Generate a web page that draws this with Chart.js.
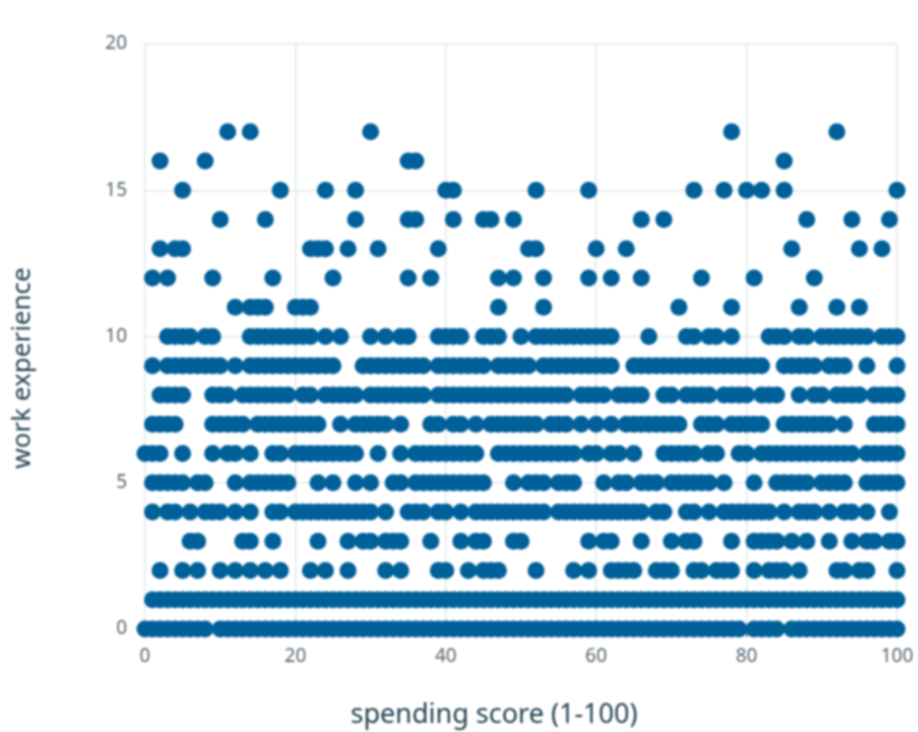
<!DOCTYPE html>
<html>
<head>
<meta charset="utf-8">
<title>work experience vs spending score</title>
<script src="https://cdn.jsdelivr.net/npm/chart.js@4/dist/chart.umd.min.js"></script>
<style>
  html, body { margin: 0; padding: 0; background: #fff; }
  /* the reference is a slightly soft upscaled image */
  canvas { display: block; filter: blur(0.8px); }
</style>
</head>
<body>
<canvas id="myChart" width="918" height="732"></canvas>
<script>
var xTicks = [0, 20, 40, 60, 80, 100];
var yTicks = [0, 5, 10, 15, 20];
var xTitle = 'spending score (1-100)';
var yTitle = 'work experience';

// spending scores seen at each work experience level
var exp0 = [0,1,2,3,4,5,6,7,8,10,11,12,13,14,15,16,17,18,19,20,21,22,23,24,25,26,27,28,29,30,31,32,33,34,35,36,37,38,39,40,41,42,43,44,45,46,47,48,49,50,51,52,53,54,55,56,57,58,59,60,61,62,63,64,65,66,67,68,69,70,71,72,73,74,75,76,77,78,79,81,82,83,84,86,87,88,89,90,91,92,93,94,95,96,97,98,99,100];
var exp1 = [1,2,3,4,5,6,7,8,9,10,11,12,13,14,15,16,17,18,19,20,21,22,23,24,25,26,27,28,29,30,31,32,33,34,35,36,37,38,39,40,41,42,43,44,45,46,47,48,49,50,51,52,53,54,55,56,57,58,59,60,61,62,63,64,65,66,67,68,69,70,71,72,73,74,75,76,77,78,79,80,81,82,83,84,85,86,87,88,89,90,91,92,93,94,95,96,97,98,99,100];
var exp2 = [2,5,7,10,12,14,16,18,22,24,27,32,34,39,40,43,45,46,47,52,57,59,62,63,64,65,68,69,70,73,74,76,77,78,81,83,84,85,87,92,93,95,96,100];
var exp3 = [6,7,13,14,17,23,27,29,30,32,33,34,38,42,44,45,49,50,59,61,62,66,70,72,73,78,81,82,83,84,86,88,91,94,96,97,99,100];
var exp4 = [1,3,4,6,8,9,10,12,14,17,18,20,21,22,23,24,25,26,27,28,29,30,32,35,36,37,39,40,42,44,45,46,47,48,49,50,51,52,53,55,56,57,58,59,60,61,62,63,64,65,66,68,69,72,73,75,77,78,79,80,81,82,83,85,87,88,89,91,93,94,96,99];
var exp5 = [1,2,3,4,5,7,8,12,14,15,16,17,18,19,23,25,28,30,33,34,36,37,38,39,40,41,42,43,44,45,49,51,52,53,55,56,57,61,63,64,66,67,68,70,71,72,73,74,75,77,81,84,85,86,87,88,90,91,92,93,96,97,98,99,100];
var exp6 = [0,1,2,5,9,11,12,14,17,18,20,21,22,23,24,25,26,27,28,31,34,36,37,38,39,40,41,42,43,44,47,48,49,50,51,52,53,54,55,56,57,59,60,62,63,65,69,70,71,72,73,75,76,79,80,82,83,84,85,86,87,88,89,90,91,92,93,94,96,97,98,99,100];
var exp7 = [1,2,3,4,9,10,11,12,13,15,16,17,18,19,20,21,22,23,26,28,29,30,31,32,34,38,39,41,42,44,46,47,48,49,50,51,52,54,55,56,58,60,62,64,65,66,67,68,69,70,71,74,75,76,78,79,80,81,82,85,86,87,88,89,90,91,93,97,98,99,100];
var exp8 = [2,3,4,5,9,10,11,13,14,15,16,17,18,19,21,22,24,25,26,27,28,30,31,32,33,34,35,36,37,39,40,41,42,43,44,45,46,47,48,49,50,51,52,53,54,55,56,58,59,60,61,63,64,65,66,69,70,72,73,74,75,77,78,79,80,82,83,84,87,89,90,92,93,94,95,97,98,99,100];
var exp9 = [1,3,4,5,6,7,8,9,10,12,14,15,16,17,18,19,20,21,22,23,24,25,29,30,31,32,33,34,35,36,37,39,40,41,42,43,44,45,47,48,49,50,51,53,54,55,56,57,58,59,60,61,62,65,66,67,68,69,70,71,72,73,74,75,76,77,78,79,80,81,82,85,86,87,88,89,91,92,93,96,100];
var exp10 = [3,4,5,6,8,9,14,15,16,17,18,19,20,21,22,24,26,30,32,34,35,39,40,41,42,45,46,47,50,52,53,54,55,56,57,58,59,60,61,62,67,72,73,75,76,78,83,84,85,87,88,90,91,92,93,94,95,96,98,99,100];
var exp11 = [12,14,15,16,20,21,22,47,53,71,78,87,92,95];
var exp12 = [1,3,9,17,25,35,38,47,49,53,59,62,66,74,81,89];
var exp13 = [2,4,5,22,23,24,27,31,39,51,52,60,64,86,95,98];
var exp14 = [10,16,28,35,36,41,45,46,49,66,69,88,94,99];
var exp15 = [5,18,24,28,40,41,52,59,73,77,80,82,85,100];
var exp16 = [2,8,35,36,85];
var exp17 = [11,14,30,78,92];

var levels = [exp0, exp1, exp2, exp3, exp4, exp5, exp6, exp7, exp8, exp9, exp10, exp11, exp12, exp13, exp14, exp15, exp16, exp17];
var points = [];
levels.forEach(function (scores, level) {
    scores.forEach(function (score) {
        points.push({ x: score, y: level });
    });
});

// axis titles sit off-centre in the original, scale.title can only center them
var axisTitles = {
    id: 'axisTitles',
    afterDraw: function (chart) {
        var ctx = chart.ctx;
        ctx.save();
        ctx.fillStyle = '#213f50';
        ctx.textAlign = 'center';
        ctx.textBaseline = 'middle';
        ctx.font = '27px "Noto Sans"';
        ctx.fillText(xTitle, 494, 715);
        ctx.font = '26px "Noto Sans"';
        ctx.translate(23, 368);
        ctx.rotate(-Math.PI / 2);
        ctx.fillText(yTitle, 0, 0);
        ctx.restore();
    }
};

var ctx = document.getElementById('myChart').getContext('2d');
var myChart = new Chart(ctx, {
    type: 'scatter',
    data: {
        datasets: [{
            label: yTitle,
            data: points,
            backgroundColor: '#00609a',
            borderColor: '#00609a',
            pointRadius: 8.5,
            pointBorderWidth: 0,
            clip: false
        }]
    },
    options: {
        responsive: false,
        animation: false,
        layout: { padding: { top: 44, right: 21, left: 0, bottom: 0 } },
        plugins: { legend: { display: false }, tooltip: { enabled: false } },
        scales: {
            x: {
                type: 'linear',
                min: 0,
                max: 100,
                afterBuildTicks: function (scale) {
                    scale.ticks = xTicks.map(function (v) { return { value: v }; });
                },
                afterFit: function (scale) {
                    scale.height = 103;
                    scale.paddingLeft = 0;
                    scale.paddingRight = 0;
                },
                grid: { color: '#e2e6e9', lineWidth: 1.5, tickColor: '#55636e', tickLength: 8 },
                border: { display: false },
                ticks: { color: '#54646f', font: { family: 'Noto Sans', size: 19 }, padding: 8, maxRotation: 0 }
            },
            y: {
                type: 'linear',
                min: 0,
                max: 20,
                afterBuildTicks: function (scale) {
                    scale.ticks = yTicks.map(function (v) { return { value: v }; });
                },
                afterFit: function (scale) { scale.width = 145; },
                grid: { color: '#e2e6e9', lineWidth: 1.5, drawTicks: false },
                border: { display: false },
                ticks: { color: '#54646f', font: { family: 'Noto Sans', size: 19 }, padding: 18 }
            }
        }
    },
    plugins: [axisTitles]
});
</script>
</body>
</html>
